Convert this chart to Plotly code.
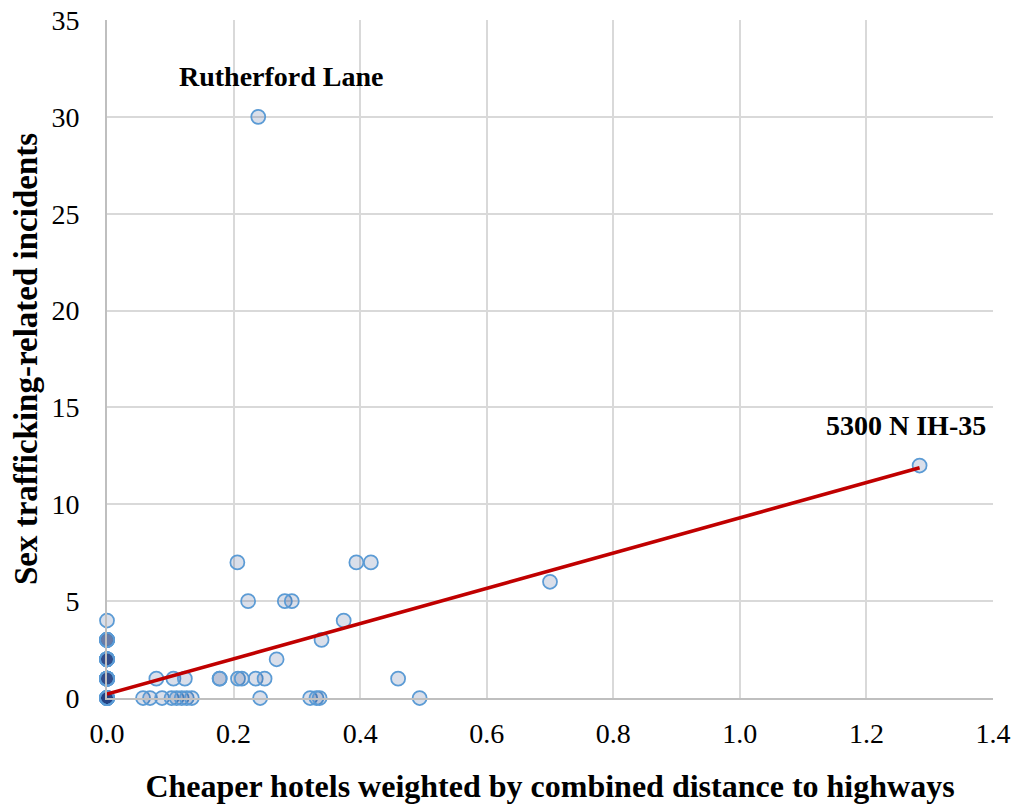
import plotly.graph_objects as go
import numpy as np

# Data (x = cheaper hotels weighted by distance, y = incidents)
# Many hotels overlap at x = 0 (shown darker in the reference)
y_zero_col = [0]*16 + [1]*12 + [2]*12 + [3]*6 + [4]
x_zero_col = [0.0] * len(y_zero_col)

x_y0 = [0.057, 0.068, 0.087, 0.102, 0.110, 0.118, 0.126, 0.134, 0.242, 0.321, 0.331, 0.336, 0.494]
x_y1 = [0.078, 0.105, 0.123, 0.178, 0.178, 0.207, 0.213, 0.235, 0.249, 0.460]
x_other = [0.268, 0.339, 0.374, 0.223, 0.281, 0.292, 0.700, 0.206, 0.394, 0.417, 1.284, 0.239]
y_other = [2, 3, 4, 5, 5, 5, 6, 7, 7, 7, 12, 30]

# Linear trendline (as displayed in the reference)
trend_intercept = 0.2
trend_slope = 9.1

labels = ["Rutherford Lane", "5300 N IH-35"]
label_x = [0.275, 1.262]
label_y = [32.1, 14.05]

x_ticks = [0.0, 0.2, 0.4, 0.6, 0.8, 1.0, 1.2, 1.4]
y_ticks = [0, 5, 10, 15, 20, 25, 30, 35]

xs = x_zero_col + x_y0 + x_y1 + x_other
ys = y_zero_col + [0]*len(x_y0) + [1]*len(x_y1) + y_other

font_family = "Liberation Serif, Times New Roman, serif"

fig = go.Figure()
fig.add_trace(go.Scatter(
    x=xs, y=ys, mode="markers", cliponaxis=False,
    marker=dict(size=14, color="rgba(25,55,125,0.16)",
                line=dict(color="#5b9bd5", width=1.75)),
    showlegend=False, hoverinfo="x+y"))

tx = np.array([0.0, max(xs)])
fig.add_trace(go.Scatter(
    x=tx, y=trend_intercept + trend_slope*tx, mode="lines", cliponaxis=False,
    line=dict(color="#c00000", width=3.5), showlegend=False))

for t, lx, ly in zip(labels, label_x, label_y):
    fig.add_annotation(x=lx, y=ly, text="<b>%s</b>" % t, showarrow=False,
                       font=dict(family=font_family, size=28, color="black"))

# page body has an 8px margin, so the figure is 8px smaller than the window
fig.update_layout(
    width=1016, height=796,
    margin=dict(l=99, r=31, t=12, b=106),
    paper_bgcolor="white", plot_bgcolor="white",
    font=dict(family=font_family, color="black"),
)
fig.update_xaxes(
    range=[0, 1.4], tickvals=x_ticks, ticktext=["%.1f" % v for v in x_ticks],
    showgrid=True, gridcolor="#d9d9d9", gridwidth=1.5, zeroline=False,
    showline=True, linecolor="#bfbfbf", linewidth=2, automargin=False,
    tickfont=dict(size=28, family=font_family), ticks="", ticklabelstandoff=9,
    ticklabeloverflow="allow",
    title=dict(text="<b>Cheaper hotels weighted by combined distance to highways</b>",
               font=dict(size=32, family=font_family), standoff=28),
)
fig.update_yaxes(
    range=[0, 35], tickvals=y_ticks,
    showgrid=True, gridcolor="#d9d9d9", gridwidth=1.5, zeroline=False,
    showline=True, linecolor="#bfbfbf", linewidth=2, automargin=False,
    tickfont=dict(size=28, family=font_family), ticks="", ticklabelstandoff=20,
    ticklabeloverflow="allow",
    title=dict(text="<b>Sex trafficking-related incidents</b>",
               font=dict(size=33, family=font_family), standoff=12),
)

fig.write_html("out.html")
